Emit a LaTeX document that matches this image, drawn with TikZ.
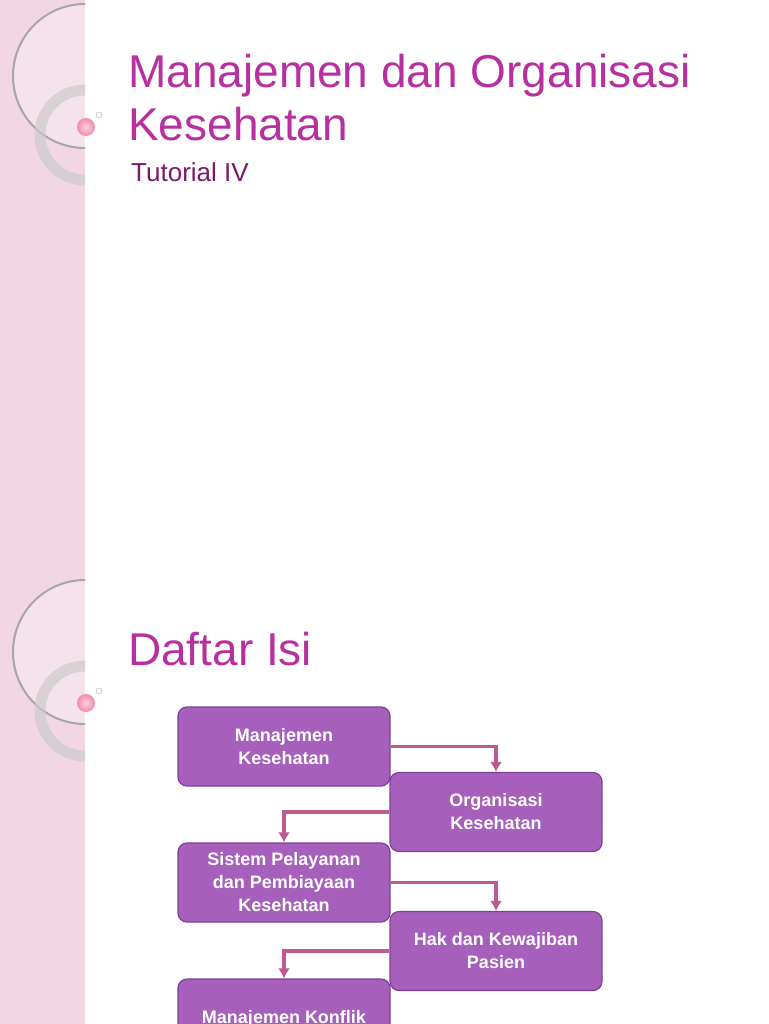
\documentclass[tikz,border=0pt]{standalone}
\usepackage{fontspec}
\setmainfont{Liberation Sans}
\usetikzlibrary{arrows.meta}
\begin{document}
\begin{tikzpicture}[x=1pt,y=-1pt,
 box/.style={draw=boxb,fill=boxf,rounded corners=9pt,line width=1.2pt,text=white,font=\bfseries\fontsize{18}{23}\selectfont,align=center,minimum width=212pt,minimum height=79pt,inner sep=2pt},
 arr/.style={draw=arrc,line width=3.5pt,-{Latex[length=10pt,width=12pt]}},
 ttl/.style={text=ttlc,anchor=base west,inner sep=0pt}]
\definecolor{boxf}{HTML}{A660BC}
\definecolor{boxb}{HTML}{7E3F96}
\definecolor{arrc}{HTML}{BE5A92}
\definecolor{ttlc}{HTML}{B8309F}
\definecolor{subc}{HTML}{7A1A6A}
\definecolor{strip}{HTML}{F3D6E4}
\definecolor{ballc}{HTML}{F08CB0}
\useasboundingbox (0,0) rectangle (768,1024);
\fill[white] (0,0) rectangle (768,1024);
\foreach \o in {0,576}{
 \begin{scope}[yshift=-\o pt]
 \fill[strip] (0,0) rectangle (85,576);
 \begin{scope}
 \clip (0,0) rectangle (85,576);
 \fill[white,opacity=0.3] (85,76) circle (71);
 \draw[gray!70,line width=2pt] (85,76) circle (72);
 \draw[gray!40,opacity=0.7,line width=11pt] (85,135) circle (45);
 \end{scope}
 \shade[inner color=white!60!ballc,outer color=ballc] (86,127) circle (9);
 \draw[gray!70,fill=white] (99,115) circle (3);
 \end{scope}}
\node[ttl,font=\fontsize{46}{50}\selectfont] (t1) at (128,88) {Manajemen dan Organisasi};
\node[ttl,font=\fontsize{46}{50}\selectfont] (t2) at (128,141) {Kesehatan};
\node[ttl,text=subc,font=\fontsize{26}{30}\selectfont] (t3) at (131,182) {Tutorial IV};
\node[ttl,font=\fontsize{46}{50}\selectfont] (t4) at (128,665) {Daftar Isi};
\node[box] (b1) at (284,746.5) {Manajemen\\Kesehatan};
\node[box] (b2) at (496,812) {Organisasi\\Kesehatan};
\node[box] (b3) at (284,882.5) {Sistem Pelayanan\\dan Pembiayaan\\Kesehatan};
\node[box] (b4) at (496,951) {Hak dan Kewajiban\\Pasien};
\node[box] (b5) at (284,1018.5) {Manajemen Konflik};
\draw[arr] (b1.east) -| (b2.north);
\draw[arr] (b2.west) -| (b3.north);
\draw[arr] (b3.east) -| (b4.north);
\draw[arr] (b4.west) -| (b5.north);
\end{tikzpicture}
\end{document}
